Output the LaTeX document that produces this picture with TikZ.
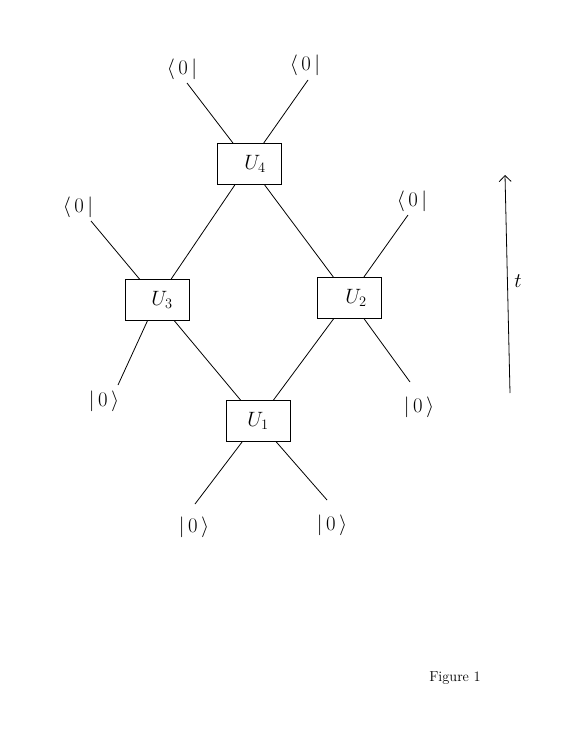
\documentclass[tikz,border=0pt]{standalone}
\usetikzlibrary{arrows.meta}
\begin{document}
\begin{tikzpicture}[x=1pt,y=-1pt,
  gate/.style={draw,line width=0.9pt,minimum width=64pt,minimum height=41pt,inner sep=0pt,font=\huge},
  wire/.style={line width=0.8pt},
  lbl/.style={font=\huge,inner sep=1pt}]
\useasboundingbox (0,0) rectangle (575,744);
% gates
\node[gate] (u4) at (249,164) {\hspace{12pt}$U_4$};
\node[gate] (u3) at (157,300) {\hspace{10pt}$U_3$};
\node[gate] (u2) at (349,298) {\hspace{14pt}$U_2$};
\node[gate] (u1) at (258,421) {$U_1$};
% free ends
\coordinate (a1) at (187,83);
\coordinate (a2) at (308,80);
\coordinate (a3) at (91,221);
\coordinate (a4) at (408,215);
\coordinate (b3) at (118,385);
\coordinate (b2) at (410,382);
\coordinate (b1l) at (195,504);
\coordinate (b1r) at (327,500);
% labels
\node[lbl] (la1) at (182,69) {$\langle\,0\,|$};
\node[lbl] (la2) at (305,65) {$\langle\,0\,|$};
\node[lbl] (la3) at (78,207) {$\langle\,0\,|$};
\node[lbl] (la4) at (412,201) {$\langle\,0\,|$};
\node[lbl] (lb3) at (104,401) {$|\,0\,\rangle$};
\node[lbl] (lb2) at (419,407) {$|\,0\,\rangle$};
\node[lbl] (lb1l) at (194,527) {$|\,0\,\rangle$};
\node[lbl] (lb1r) at (332,525) {$|\,0\,\rangle$};
% wires
\draw[wire] (a1) -- (u4);
\draw[wire] (a2) -- (u4);
\draw[wire] (u4) -- (u3);
\draw[wire] (u4) -- (u2);
\draw[wire] (a3) -- (u3);
\draw[wire] (a4) -- (u2);
\draw[wire] (u3) -- (b3);
\draw[wire] (u2) -- (b2);
\draw[wire] (u3) -- (u1);
\draw[wire] (u2) -- (u1);
\draw[wire] (u1) -- (b1l);
\draw[wire] (u1) -- (b1r);
% time arrow
\coordinate (t0) at (510,393);
\coordinate (t1) at (505,175);
\draw[wire,-{Straight Barb[length=6pt,width=12pt]}] (t0) -- (t1);
\node[lbl] (tl) at (518,281) {$t$};
% caption
\node[font=\Large] (cap) at (455,678) {Figure 1};
\end{tikzpicture}
\end{document}
